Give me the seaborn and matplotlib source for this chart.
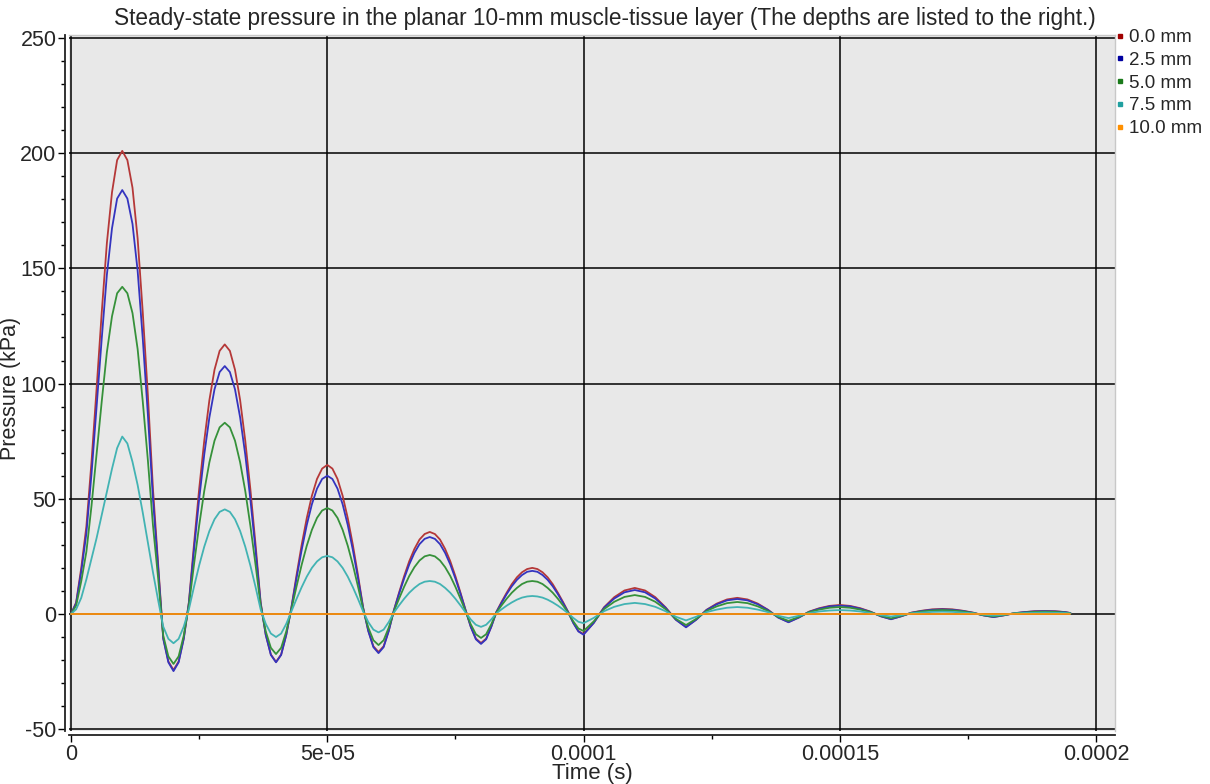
import matplotlib
matplotlib.use("Agg")
import matplotlib.pyplot as plt
from matplotlib.lines import Line2D
from matplotlib.ticker import MultipleLocator, FixedLocator, FixedFormatter
import numpy as np
import pandas as pd
import seaborn as sns

# sample times in microseconds (1 us steps up to 100 us, then 2 us)
time_us = list(range(0, 101)) + list(range(102, 195, 2)) + [195]

# pressure (kPa), one list per depth
p_0_0 = [
    0, 5, 20, 38, 66, 98, 131, 161, 183, 197, 201, 197, 185, 163, 131, 95, 54, 22,
    -10.5, -20.6, -24.3, -20.6, -10.5,
    5.1, 30.3, 54.1, 75.2, 92.8, 106, 114.2, 117, 114.2, 106, 92.8, 75.2, 54.1, 30.3, 5.1,
    -9.0, -17.6, -20.8, -17.6, -9.0,
    2.8, 16.8, 29.9, 41.6, 51.3, 58.6, 63.1, 64.7, 63.1, 58.6, 51.3, 41.6, 29.9, 16.8, 2.8,
    -7.2, -14.0, -16.5, -14.0, -7.2,
    1.6, 9.2, 16.4, 22.9, 28.2, 32.3, 34.7, 35.6, 34.7, 32.3, 28.2, 22.9, 16.4, 9.2, 1.6,
    -5.5, -10.7, -12.6, -10.7, -5.5,
    0.9, 5.2, 9.2, 12.9, 15.9, 18.1, 19.5, 20, 19.5, 18.1, 15.9, 12.9, 9.2, 5.2, 0.9,
    -3.8, -7.4, -8.7,
    -3.8,
    2.9, 7.3, 10.2, 11.3, 10.2, 7.3, 2.9, -2.4, -5.6, -2.4,
    1.8, 4.5, 6.3, 7.0, 6.3, 4.5, 1.8, -1.5, -3.5, -1.5,
    1.0, 2.5, 3.5, 3.9, 3.5, 2.5, 1.0, -1.0, -2.2, -1.0,
    0.6, 1.4, 2.0, 2.2, 2.0, 1.4, 0.6, -0.6, -1.3, -0.6,
    0.3, 0.8, 1.2, 1.3, 1.2, 0.8,
    0.4,
]
p_2_5 = [
    0, 4.6, 18.4, 35.0, 60.7, 90.2, 119.6, 147.2, 167.4, 180.3, 184, 180.3, 169.3, 149, 119.6, 86.5, 49.7, 20.2,
    -10.8, -21.0, -24.8, -21.0, -10.8,
    4.7, 27.9, 49.7, 69.2, 85.3, 97.5, 105.0, 107.6, 105.0, 97.5, 85.3, 69.2, 49.7, 27.9, 4.7,
    -9.1, -17.8, -21, -17.8, -9.1,
    2.6, 15.5, 27.7, 38.6, 47.6, 54.4, 58.6, 60, 58.6, 54.4, 47.6, 38.6, 27.7, 15.5, 2.6,
    -7.4, -14.4, -17, -14.4, -7.4,
    1.5, 8.7, 15.4, 21.5, 26.5, 30.3, 32.6, 33.4, 32.6, 30.3, 26.5, 21.5, 15.4, 8.7, 1.5,
    -5.6, -11.0, -13, -11.0, -5.6,
    0.8, 4.8, 8.6, 12.0, 14.8, 16.9, 18.3, 18.7, 18.3, 16.9, 14.8, 12.0, 8.6, 4.8, 0.8,
    -3.9, -7.6, -9,
    -3.9,
    2.7, 6.7, 9.4, 10.4, 9.4, 6.7, 2.7, -2.5, -5.8, -2.5,
    1.7, 4.2, 5.9, 6.5, 5.9, 4.2, 1.7, -1.6, -3.6, -1.6,
    0.9, 2.3, 3.3, 3.6, 3.3, 2.3, 0.9, -1.0, -2.3, -1.0,
    0.5, 1.3, 1.8, 2.0, 1.8, 1.3, 0.5, -0.6, -1.35, -0.6,
    0.3, 0.8, 1.1, 1.2, 1.1, 0.8,
    0.4,
]
p_5_0 = [
    0, 3.6, 14.2, 27, 46.9, 69.6, 92.3, 113.6, 129.2, 139.2, 142, 139.2, 130.6, 115, 92.3, 66.7, 38.3, 15.6,
    -9.4, -18.4, -21.7, -18.4, -9.4,
    3.7, 21.5, 38.3, 53.4, 65.8, 75.2, 81.0, 83, 81.0, 75.2, 65.8, 53.4, 38.3, 21.5, 3.7,
    -7.6, -14.7, -17.4, -14.7, -7.6,
    2.0, 11.9, 21.3, 29.6, 36.5, 41.7, 44.9, 46, 44.9, 41.7, 36.5, 29.6, 21.3, 11.9, 2.0,
    -5.9, -11.4, -13.5, -11.4, -5.9,
    1.1, 6.6, 11.8, 16.5, 20.3, 23.2, 25.0, 25.6, 25.0, 23.2, 20.3, 16.5, 11.8, 6.6, 1.1,
    -4.5, -8.8, -10.4, -8.8, -4.5,
    0.6, 3.7, 6.6, 9.2, 11.3, 13.0, 14.0, 14.3, 14.0, 13.0, 11.3, 9.2, 6.6, 3.7, 0.6,
    -3.2, -6.3, -7.4,
    -3.2,
    2.1, 5.3, 7.4, 8.2, 7.4, 5.3, 2.1, -2.1, -4.8, -2.1,
    1.3, 3.3, 4.7, 5.2, 4.7, 3.3, 1.3, -1.3, -3.0, -1.3,
    0.8, 1.9, 2.7, 3.0, 2.7, 1.9, 0.8, -0.8, -1.9, -0.8,
    0.4, 1.1, 1.5, 1.7, 1.5, 1.1, 0.4, -0.5, -1.1, -0.5,
    0.3, 0.6, 0.9, 1.0, 0.9, 0.6,
    0.3,
]
p_7_5 = [
    0, 2, 7, 15, 24, 33, 43, 53, 63, 72, 77, 74, 66, 56, 44, 31, 18, 6,
    -5.5, -10.8, -12.7, -10.8, -5.5,
    2.0, 11.8, 21.0, 29.2, 36.0, 41.1, 44.3, 45.4, 44.3, 41.1, 36.0, 29.2, 21.0, 11.8, 2.0,
    -4.3, -8.5, -10, -8.5, -4.3,
    1.1, 6.5, 11.6, 16.2, 20.0, 22.8, 24.6, 25.2, 24.6, 22.8, 20.0, 16.2, 11.6, 6.5, 1.1,
    -3.5, -6.8, -8, -6.8, -3.5,
    0.6, 3.7, 6.6, 9.2, 11.3, 13.0, 14.0, 14.3, 14.0, 13.0, 11.3, 9.2, 6.6, 3.7, 0.6,
    -2.4, -4.7, -5.6, -4.7, -2.4,
    0.3, 2.0, 3.6, 5.0, 6.2, 7.1, 7.6, 7.8, 7.6, 7.1, 6.2, 5.0, 3.6, 2.0, 0.3,
    -1.7, -3.4, -4,
    -1.7,
    1.2, 3.1, 4.3, 4.8, 4.3, 3.1, 1.2, -1.2, -2.8, -1.2,
    0.8, 1.9, 2.7, 3.0, 2.7, 1.9, 0.8, -0.8, -1.8, -0.8,
    0.4, 1.1, 1.5, 1.7, 1.5, 1.1, 0.4, -0.5, -1.1, -0.5,
    0.3, 0.6, 0.9, 1.0, 0.9, 0.6, 0.3, -0.3, -0.7, -0.3,
    0.2, 0.4, 0.5, 0.6, 0.5, 0.4,
    0.2,
]
# the 10 mm depth stays flat at zero over the whole record
p_10_0 = [0.0] * len(time_us)

depth_labels = ["0.0 mm", "2.5 mm", "5.0 mm", "7.5 mm", "10.0 mm"]
line_colors = ["#b53838", "#3434bf", "#36913a", "#42b3b3", "#ff9410"]
marker_colors = ["#a00000", "#0000a0", "#1a7a1a", "#20a0a0", "#ff9000"]
x_ticks = [0, 5e-5, 1e-4, 1.5e-4, 2e-4]
x_tick_labels = ["0", "5e-05", "0.0001", "0.00015", "0.0002"]
title = "Steady-state pressure in the planar 10-mm muscle-tissue layer (The depths are listed to the right.)"

series = [p_0_0, p_2_5, p_5_0, p_7_5, p_10_0]
frames = []
for label, vals in zip(depth_labels, series):
    frames.append(pd.DataFrame({
        "Time (s)": np.array(time_us) * 1e-6,
        "Pressure (kPa)": vals,
        "Depth": label,
    }))
df = pd.concat(frames, ignore_index=True)

sns.set_theme(style="white")
plt.rcParams["font.family"] = ["Liberation Sans", "DejaVu Sans"]
plt.rcParams["axes.unicode_minus"] = False

fig = plt.figure(figsize=(12.1, 7.84), dpi=100)
ax = fig.add_axes([69 / 1210, 53 / 784, 1046 / 1210, 696 / 784])
sns.lineplot(data=df, x="Time (s)", y="Pressure (kPa)", hue="Depth",
             hue_order=depth_labels, palette=dict(zip(depth_labels, line_colors)),
             linewidth=1.3, estimator=None, legend=False, ax=ax)

ax.set_facecolor("#e8e8e8")
ax.set_xlim(-0.39e-6, 203.7e-6)
ax.set_ylim(-50.8, 251.3)
ax.grid(True, which="major", color="black", linewidth=1.1)
ax.set_axisbelow(True)

for side in ["left", "bottom"]:
    ax.spines[side].set_color("#222222")
    ax.spines[side].set_linewidth(1.3)
    ax.spines[side].set_position(("outward", 3))
for side in ["top", "right"]:
    ax.spines[side].set_color("#c8c8c8")
    ax.spines[side].set_linewidth(1.0)

ax.yaxis.set_major_locator(MultipleLocator(50))
ax.yaxis.set_minor_locator(MultipleLocator(10))
ax.xaxis.set_major_locator(FixedLocator(x_ticks))
ax.xaxis.set_major_formatter(FixedFormatter(x_tick_labels))
ax.xaxis.set_minor_locator(MultipleLocator(2.5e-5))
ax.tick_params(which="both", direction="out", color="black", labelsize=15.5,
               top=False, right=False, left=True, bottom=True)
ax.tick_params(axis="y", which="major", length=5, width=1, pad=1)
ax.tick_params(axis="x", which="major", length=5, width=1, pad=1)
ax.tick_params(which="minor", length=3, width=1)

ax.set_xlabel("Time (s)", fontsize=16, labelpad=-1)
ax.set_ylabel("")
fig.text(11 / 1210, 1 - 388 / 784, "Pressure (kPa)", rotation=90,
         ha="center", va="center", fontsize=15.5)
fig.text(0.5, 1 - 18 / 784, title, ha="center", va="center", fontsize=16.3)

handles = [Line2D([], [], marker="s", linestyle="none", color=c, markersize=3.5)
           for c in marker_colors]
fig.legend(handles, depth_labels, loc="upper left",
           bbox_to_anchor=(1116 / 1210, 1 - 29 / 784), frameon=False,
           fontsize=13.5, handlelength=0.4, handletextpad=0.3,
           labelspacing=0.3, borderaxespad=0, borderpad=0)

fig.savefig("out.png", dpi=100)
